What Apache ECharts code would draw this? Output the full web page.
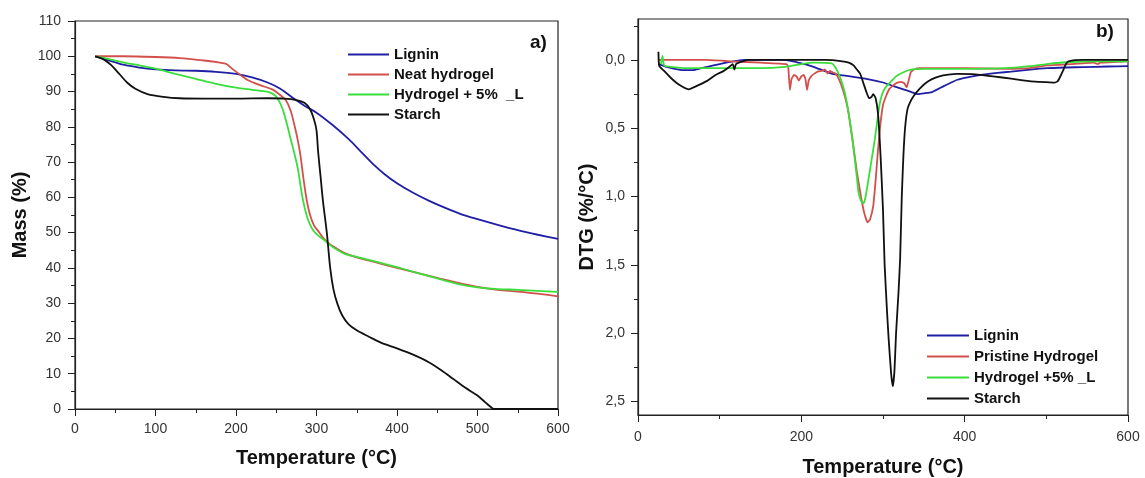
<!DOCTYPE html>
<html><head><meta charset="utf-8">
<script src="https://cdn.jsdelivr.net/npm/echarts@6/dist/echarts.min.js"></script>
<style>html,body{margin:0;padding:0;background:#fff}#c{width:1145px;height:478px}</style>
</head><body><div id="c"></div>
<script>
// ---------- Panel a) TGA : mass (%) vs temperature (°C) ----------
const tgaLignin = [[25,100],[40,99],[60,97.6],[80,96.8],[100,96.3],[125,96],[150,95.9],[175,95.6],[200,95],[220,94],[240,92.5],[255,90.8],[270,88.3],[285,86],[300,84],[320,80.5],[340,76.5],[355,73],[370,69.5],[385,66.5],[400,64],[420,61.3],[440,59],[460,57],[480,55.2],[500,53.8],[525,52.2],[550,50.7],[575,49.4],[600,48.2]];
const tgaNeat = [[25,100],[60,100],[100,99.8],[130,99.5],[160,98.8],[180,98.2],[188,97.8],[195,96.5],[205,94.8],[215,93.2],[230,91.8],[245,90.6],[255,89],[262,87.5],[268,84.5],[272,81],[276,77],[280,72],[284,65],[288,59],[292,55],[297,52],[302,50.5],[308,48.6],[316,46.8],[325,45.5],[335,44.2],[350,43],[375,41.5],[400,40],[425,38.6],[450,37.2],[475,35.8],[500,34.6],[525,33.8],[550,33.3],[575,32.7],[600,31.9]];
const tgaHydroL = [[25,100],[40,99.3],[60,98.3],[80,97.4],[100,96.5],[125,95],[150,93.6],[175,92.2],[200,91.1],[220,90.5],[240,89.9],[248,89],[253,87.5],[258,85],[263,81],[268,76.5],[273,72],[277,68],[280,63.5],[283,59.5],[287,55.5],[291,52.8],[296,50.6],[303,49],[310,47.8],[316,46.6],[325,45.2],[335,44],[350,43.1],[375,41.7],[400,40.2],[425,38.6],[450,37],[475,35.5],[500,34.5],[525,34],[550,33.8],[575,33.5],[600,33.2]];
const tgaStarch = [[25,100],[35,99.2],[45,97.5],[55,95],[65,92.5],[75,90.8],[90,89.3],[110,88.5],[130,88.1],[160,88],[200,88],[240,88.1],[260,88],[275,87.6],[285,86.8],[292,85],[297,82],[300,79],[302,73],[305,66],[308,59],[313,49.6],[317,40],[321,34],[326,29.8],[332,26.5],[340,24],[350,22.3],[365,20.5],[380,18.8],[400,17.2],[420,15.4],[440,13.2],[455,11],[470,8.5],[485,6],[500,3.8],[510,1.8],[518,0.3],[521,0],[560,0],[600,0]];

// ---------- Panel b) DTG (%/°C) vs temperature (°C) ----------
const dtgLignin = [[25,0.03],[35,0.05],[45,0.065],[55,0.075],[70,0.072],[85,0.05],[100,0.03],[115,0.012],[130,0],[150,0],[175,0],[190,0.01],[200,0.025],[215,0.05],[237,0.1],[260,0.12],[281,0.14],[300,0.165],[312,0.19],[325,0.215],[335,0.235],[343,0.25],[350,0.245],[360,0.235],[375,0.19],[391,0.145],[405,0.125],[422,0.108],[440,0.095],[457,0.085],[480,0.07],[501,0.06],[525,0.055],[545,0.052],[575,0.048],[600,0.045]];
const dtgPristine = [[25,0],[50,0],[84,0],[114,0.01],[150,0.02],[182,0.03],[184,0.05],[186,0.22],[188,0.14],[191,0.11],[194,0.12],[197,0.15],[200,0.12],[203,0.11],[205,0.14],[207,0.22],[209,0.15],[212,0.12],[216,0.1],[220,0.085],[225,0.08],[229,0.07],[232,0.1],[235,0.08],[238,0.09],[242,0.1],[246,0.14],[251,0.22],[257,0.36],[263,0.6],[268,0.82],[273,1.0],[277,1.12],[281,1.19],[284,1.17],[288,1.07],[291,0.88],[294,0.65],[297,0.46],[300,0.33],[304,0.26],[308,0.21],[316,0.17],[322,0.16],[326,0.17],[329,0.2],[331,0.16],[334,0.09],[338,0.07],[345,0.06],[370,0.06],[400,0.06],[450,0.065],[480,0.06],[501,0.04],[530,0.03],[558,0.02],[563,0.03],[566,0.02],[600,0.01]];
const dtgHydroL = [[28,0.03],[30,-0.03],[32,0.04],[40,0.05],[60,0.06],[100,0.06],[150,0.06],[180,0.05],[200,0.03],[215,0.02],[237,0.025],[244,0.08],[251,0.19],[255,0.29],[260,0.47],[264,0.65],[268,0.86],[270,0.97],[273,1.03],[276,1.05],[278,1.02],[281,0.92],[285,0.77],[290,0.58],[294,0.4],[297,0.29],[302,0.21],[308,0.17],[316,0.12],[325,0.09],[334,0.07],[350,0.065],[400,0.065],[450,0.06],[480,0.045],[500,0.03],[530,0.015],[560,0.01],[600,0.01]];
const dtgStarch = [[25,-0.06],[26,0.045],[32,0.08],[40,0.13],[50,0.18],[62,0.215],[72,0.19],[84,0.155],[95,0.11],[105,0.08],[112,0.05],[116,0.03],[118,0.07],[120,0.03],[128,0.01],[136,0],[180,0],[230,0],[250,0.01],[258,0.02],[264,0.04],[268,0.07],[272,0.1],[276,0.17],[280,0.24],[283,0.28],[286,0.27],[288,0.25],[291,0.28],[294,0.4],[297,0.7],[300,1.1],[302,1.5],[305,1.85],[307,2.05],[310,2.3],[312,2.39],[314,2.28],[316,2.0],[319,1.7],[321,1.45],[323,1.0],[325,0.7],[327,0.5],[330,0.36],[334,0.3],[338,0.26],[345,0.21],[352,0.17],[360,0.14],[369,0.12],[380,0.108],[391,0.102],[413,0.105],[435,0.12],[457,0.137],[479,0.155],[500,0.163],[510,0.166],[514,0.155],[518,0.11],[521,0.07],[524,0.03],[527,0.01],[545,0],[600,0]];

// tick / label values
const dtgLabelValues = [0, 0.5, 1.0, 1.5, 2.0, 2.5];
const dtgMajorTicks = [0, 0.5, 1.0, 1.5, 2.0, 2.5];
const dtgMinorTicks = [-0.25, 0.25, 0.75, 1.25, 1.75, 2.25];

const legendA = ['Lignin', 'Neat hydrogel', 'Hydrogel + 5%  _L', 'Starch'];
const legendB = ['Lignin', 'Pristine Hydrogel', 'Hydrogel +5% _L', 'Starch'];

const C_BLUE = '#1f1fa6', C_RED = '#d2504c', C_GREEN = '#3ade3a', C_BLACK = '#111111';
const FONT = "'Liberation Sans', Arial, sans-serif";

const chart = echarts.init(document.getElementById('c'), null, {renderer: 'canvas'});

function lineSeries(name, data, color, xi, yi, smooth) {
  return {type: 'line', name, data, xAxisIndex: xi, yAxisIndex: yi, showSymbol: false, symbol: 'none',
    smooth: smooth, lineStyle: {color, width: 1.8}, itemStyle: {color}, animation: false, z: 3};
}
const axisLineStyle = {show: true, onZero: false, lineStyle: {color: '#222', width: 1.2}};
const labelStyle = {color: '#333', fontSize: 14, fontFamily: FONT};
const nameStyle = {color: '#111', fontSize: 20, fontWeight: 'bold', fontFamily: FONT};

chart.setOption({
  animation: false,
  backgroundColor: '#fff',
  grid: [
    {left: 75, right: 587, top: 21, bottom: 69, show: true, borderColor: '#222', borderWidth: 1.2,
      containLabel: false, outerBoundsMode: 'none'},
    {left: 638, right: 17, top: 19, bottom: 63, show: true, borderColor: '#222', borderWidth: 1.2,
      containLabel: false, outerBoundsMode: 'none'}
  ],
  xAxis: [
    {type: 'value', gridIndex: 0, min: 0, max: 600, interval: 100, position: 'bottom',
      name: 'Temperature (°C)', nameLocation: 'middle', nameGap: 39, nameTextStyle: nameStyle,
      axisLine: axisLineStyle, axisTick: {show: true, length: 7, lineStyle: {color: '#222'}},
      minorTick: {show: true, splitNumber: 2, length: 4, lineStyle: {color: '#222'}},
      axisLabel: Object.assign({margin: 13}, labelStyle), splitLine: {show: false}},
    {type: 'value', gridIndex: 1, min: 0, max: 600, interval: 200, position: 'bottom',
      name: 'Temperature (°C)', nameLocation: 'middle', nameGap: 42, nameTextStyle: nameStyle,
      axisLine: axisLineStyle, axisTick: {show: true, length: 7, lineStyle: {color: '#222'}},
      minorTick: {show: true, splitNumber: 2, length: 4, lineStyle: {color: '#222'}},
      axisLabel: Object.assign({margin: 15}, labelStyle), splitLine: {show: false}}
  ],
  yAxis: [
    {type: 'value', gridIndex: 0, min: 0, max: 110, interval: 10, position: 'left',
      name: 'Mass (%)', nameLocation: 'middle', nameGap: 45, nameRotate: 90, nameTextStyle: nameStyle,
      axisLine: axisLineStyle, axisTick: {show: true, length: 7, lineStyle: {color: '#222'}},
      minorTick: {show: true, splitNumber: 2, length: 4, lineStyle: {color: '#222'}},
      axisLabel: Object.assign({margin: 14}, labelStyle), splitLine: {show: false}},
    {type: 'value', gridIndex: 1, min: -0.3, max: 2.6, inverse: true, position: 'left',
      name: 'DTG (%/°C)', nameLocation: 'middle', nameGap: 41, nameRotate: 90, nameTextStyle: nameStyle,
      axisLine: axisLineStyle,
      axisTick: {show: true, length: 7, customValues: dtgMajorTicks, lineStyle: {color: '#222'}},
      axisLabel: Object.assign({margin: 13, customValues: dtgLabelValues,
        formatter: v => v.toFixed(1).replace('.', ',')}, labelStyle),
      splitLine: {show: false}},
    {type: 'value', gridIndex: 1, min: -0.3, max: 2.6, inverse: true, position: 'left', offset: 0,
      axisLine: {show: false, onZero: false},
      axisTick: {show: true, length: 4, customValues: dtgMinorTicks, lineStyle: {color: '#222'}},
      axisLabel: {show: false}, splitLine: {show: false}}
  ],
  legend: [
    {data: legendA, orient: 'vertical', left: 348, top: 47, padding: 0, itemGap: 5,
      itemWidth: 41, itemHeight: 2, icon: 'rect', selectedMode: false,
      textStyle: {color: '#111', fontSize: 15, fontWeight: 'bold', fontFamily: FONT}},
    {data: legendB, orient: 'vertical', left: 927, top: 328, padding: 0, itemGap: 6,
      itemWidth: 42, itemHeight: 2, icon: 'rect', selectedMode: false,
      textStyle: {color: '#111', fontSize: 15, fontWeight: 'bold', fontFamily: FONT}}
  ],
  graphic: [
    {type: 'text', left: 530, top: 33, style: {text: 'a)', fill: '#111', font: "bold 19px 'Liberation Sans', Arial, sans-serif"}},
    {type: 'text', left: 1096, top: 22, style: {text: 'b)', fill: '#111', font: "bold 19px 'Liberation Sans', Arial, sans-serif"}}
  ],
  series: [
    lineSeries('Lignin', tgaLignin, C_BLUE, 0, 0, 0.3),
    lineSeries('Neat hydrogel', tgaNeat, C_RED, 0, 0, 0.3),
    lineSeries('Hydrogel + 5%  _L', tgaHydroL, C_GREEN, 0, 0, 0.3),
    lineSeries('Starch', tgaStarch, C_BLACK, 0, 0, 0.3),
    lineSeries('Lignin', dtgLignin, C_BLUE, 1, 1, 0.2),
    lineSeries('Pristine Hydrogel', dtgPristine, C_RED, 1, 1, 0.1),
    lineSeries('Hydrogel +5% _L', dtgHydroL, C_GREEN, 1, 1, 0.2),
    lineSeries('Starch', dtgStarch, C_BLACK, 1, 1, 0.15)
  ]
});
</script>
</body></html>
